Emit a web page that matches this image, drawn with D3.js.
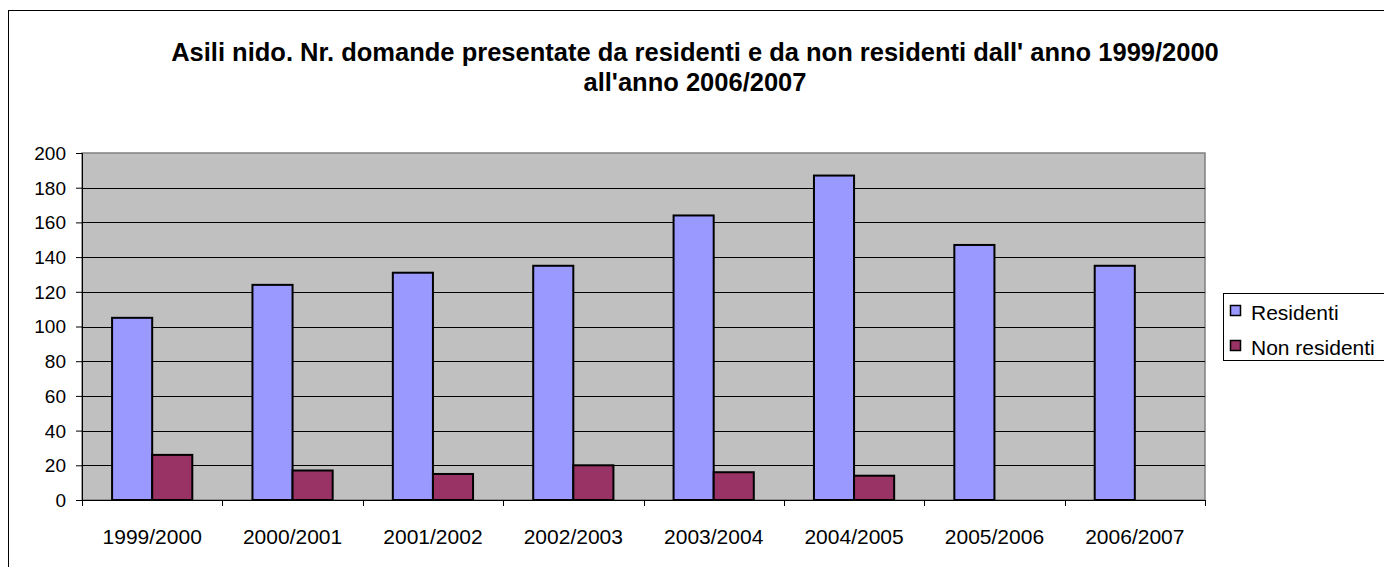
<!DOCTYPE html>
<html><head><meta charset="utf-8">
<script src="https://cdn.jsdelivr.net/npm/d3@7"></script>
<style>body{margin:0;background:#fff;} svg{display:block;font-family:"Liberation Sans",Arial,sans-serif;}</style>
</head><body>
<svg id="c" width="1384" height="567"></svg>
<script>
const categories = ["1999/2000","2000/2001","2001/2002","2002/2003","2003/2004","2004/2005","2005/2006","2006/2007"];
const residenti = [105,124,131,135,164,187,147,135];
const nonResidenti = [26,17,15,20,16,14,null,null];
const seriesNames = ["Residenti","Non residenti"];
const yTicks = [0,20,40,60,80,100,120,140,160,180,200];
const titleLines = ["Asili nido. Nr. domande presentate da residenti e da non residenti dall' anno 1999/2000","all'anno 2006/2007"];

const colors = ["#9999FF","#993366"];
const FONT = "Liberation Sans, Arial, sans-serif";
const svg = d3.select("#c");
const m = {left:82, right:1205, top:153, bottom:500};

// chart border
svg.append("rect").attr("x",8.5).attr("y",10.5).attr("width",1400).attr("height",600)
  .attr("fill","#fff").attr("stroke","#000").attr("stroke-width",1);

// title
svg.append("g").selectAll("text").data(titleLines).join("text")
  .attr("x",695).attr("y",(d,i)=>61+i*30).attr("text-anchor","middle")
  .attr("font-weight","bold").attr("font-size","25.5px").text(d=>d);

const x = d3.scaleBand().domain(categories).range([m.left,m.right]).paddingInner(0).paddingOuter(0);
const x1 = d3.scaleBand().domain(seriesNames).range([0,x.bandwidth()]).paddingInner(0).paddingOuter(0.75);
const y = d3.scaleLinear().domain([0,200]).range([m.bottom,m.top]);

// plot area
svg.append("rect").attr("x",m.left).attr("y",m.top).attr("width",m.right-m.left).attr("height",m.bottom-m.top)
  .attr("fill","#C0C0C0").attr("stroke","#808080").attr("stroke-width",1.5);

// gridlines
svg.append("g").selectAll("line").data(yTicks.filter(d=>d>0 && d<200)).join("line")
  .attr("x1",m.left).attr("x2",m.right).attr("y1",d=>Math.round(y(d))+0.5).attr("y2",d=>Math.round(y(d))+0.5)
  .attr("stroke","#000").attr("stroke-width",1);

// bars
const data = categories.map((c,i)=>({c, vals:[residenti[i],nonResidenti[i]]}));
const groups = svg.append("g").selectAll("g").data(data).join("g").attr("transform",d=>`translate(${x(d.c)},0)`);
groups.selectAll("rect").data(d=>d.vals.map((v,j)=>({v,j})).filter(e=>e.v!=null)).join("rect")
  .attr("x",e=>x1(seriesNames[e.j])).attr("width",x1.bandwidth())
  .attr("y",e=>y(e.v)).attr("height",e=>y(0)-y(e.v))
  .attr("fill",e=>colors[e.j]).attr("stroke","#000").attr("stroke-width",2);

// y axis
const yAxis = d3.axisLeft(y).tickValues(yTicks).tickSize(6).tickPadding(10);
const gy = svg.append("g").attr("transform",`translate(${m.left},0)`).call(yAxis);
gy.attr("font-size",null).attr("font-family",null);
gy.select(".domain").attr("stroke","#000");
gy.selectAll("text").style("font-size","19px").style("font-family",FONT).attr("fill","#000").attr("dy","0.34em");

// x axis
const xAxis = d3.axisBottom(x).tickSize(0).tickPadding(0);
const gx = svg.append("g").attr("transform",`translate(0,${m.bottom})`).call(xAxis);
gx.attr("font-size",null).attr("font-family",null);
gx.select(".domain").attr("stroke","#000");
gx.selectAll("text").style("font-size","21px").style("font-family",FONT).attr("fill","#000").attr("y",44).attr("dy",0);
// category boundary ticks
svg.append("g").selectAll("line").data(categories.concat(["__end"])).join("line")
  .attr("x1",(d,i)=>Math.round(m.left + i*x.bandwidth())+0.5).attr("x2",(d,i)=>Math.round(m.left + i*x.bandwidth())+0.5)
  .attr("y1",m.bottom).attr("y2",m.bottom+6).attr("stroke","#000");

// legend
const lg = svg.append("g");
lg.append("rect").attr("x",1223.5).attr("y",293.5).attr("width",170).attr("height",67).attr("fill","#fff").attr("stroke","#000");
const li = lg.selectAll("g").data(seriesNames).join("g").attr("transform",(d,i)=>`translate(1230,${305+i*35})`);
li.append("rect").attr("x",0.5).attr("y",0.5).attr("width",10).attr("height",10).attr("fill",(d,i)=>colors[i]).attr("stroke","#000").attr("stroke-width",1.5);
li.append("text").attr("x",21).attr("y",15).style("font-size","21px").text(d=>d);
</script>
</body></html>
